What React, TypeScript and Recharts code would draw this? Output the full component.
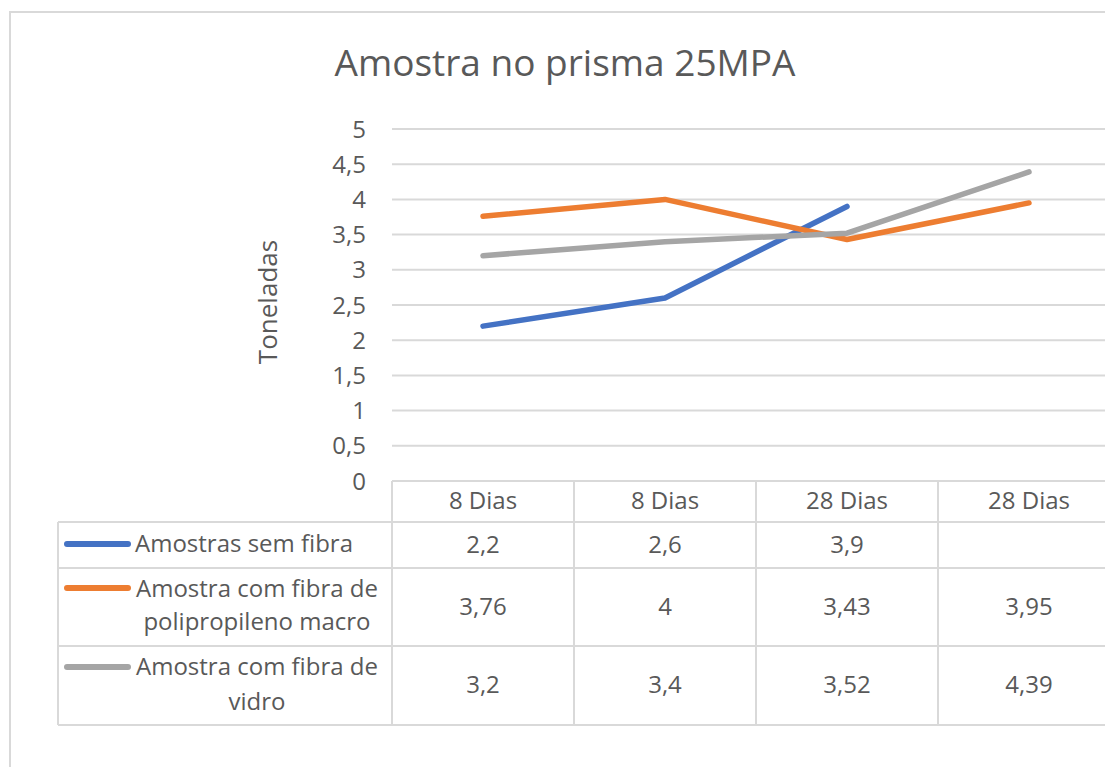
import React from 'react';
import { LineChart, Line, XAxis, YAxis, CartesianGrid } from 'recharts';

const categories = ['8 Dias', '8 Dias', '28 Dias', '28 Dias'];
const semFibra: (number | null)[] = [2.2, 2.6, 3.9, null];
const polipropileno: (number | null)[] = [3.76, 4, 3.43, 3.95];
const vidro: (number | null)[] = [3.2, 3.4, 3.52, 4.39];
const yTicks = [0, 0.5, 1, 1.5, 2, 2.5, 3, 3.5, 4, 4.5, 5];

const seriesColors = ['#4472C4', '#ED7D31', '#A5A5A5'];
const seriesValues = [semFibra, polipropileno, vidro];

const data = categories.map((c, i) => ({
  idx: i,
  cat: c,
  semFibra: semFibra[i],
  polipropileno: polipropileno[i],
  vidro: vidro[i],
}));

const fmt = (v: number) => String(v).replace('.', ',');

const GRID = '#d9d9d9';
const TEXT = '#595959';
const SANS = '"Open Sans", "Noto Sans", sans-serif';

const HALF = 91;

const TableColumn = (props: any) => {
  const { x, y, payload } = props;
  const i = Number(payload.value);
  const baselines = [72, 134, 212];
  return (
    <g>
      <line x1={x - HALF} x2={x - HALF} y1={y} y2={y + 244} stroke={GRID} strokeWidth={2} />
      <line x1={x + HALF} x2={x + HALF} y1={y} y2={y + 244} stroke={GRID} strokeWidth={2} />
      <text x={x} y={y + 28} textAnchor="middle" fontFamily={SANS} fontSize={24} fill={TEXT}>
        {categories[i]}
      </text>
      {seriesValues.map((s, k) =>
        s[i] == null ? null : (
          <text key={k} x={x} y={y + baselines[k]} textAnchor="middle" fontFamily={SANS} fontSize={24} fill={TEXT}>
            {fmt(s[i] as number)}
          </text>
        )
      )}
    </g>
  );
};

export default function App() {
  return (
    <div
      style={{
        position: 'fixed',
        left: 0,
        top: 0,
        width: 1105,
        height: 767,
        overflow: 'hidden',
        background: '#fff',
      }}
    >
      <div
        style={{
          position: 'absolute',
          left: 9,
          top: 11,
          width: 1300,
          height: 1000,
          border: `2px solid ${GRID}`,
          boxSizing: 'border-box',
        }}
      />
      <div style={{ position: 'absolute', left: 0, top: 0 }}>
        <LineChart width={1130} height={767} data={data} margin={{ top: 129, right: 10, bottom: 0, left: 0 }}>
          <CartesianGrid horizontal vertical={false} stroke={GRID} strokeWidth={2} />
          <XAxis
            dataKey="idx"
            type="category"
            height={286}
            axisLine={false}
            tickLine={false}
            tickSize={0}
            tickMargin={0}
            interval={0}
            padding={{ left: HALF, right: HALF }}
            tick={(p: any) => <TableColumn {...p} />}
          />
          <YAxis
            type="number"
            domain={[0, 5]}
            ticks={yTicks}
            width={392}
            axisLine={false}
            tickLine={false}
            tickSize={0}
            tickMargin={26}
            tickFormatter={fmt}
            tick={{ fill: TEXT, fontSize: 24, fontFamily: SANS }}
          />
          <Line dataKey="semFibra" stroke={seriesColors[0]} strokeWidth={5.5} dot={false} isAnimationActive={false} strokeLinecap="round" strokeLinejoin="round" />
          <Line dataKey="polipropileno" stroke={seriesColors[1]} strokeWidth={5.5} dot={false} isAnimationActive={false} strokeLinecap="round" strokeLinejoin="round" />
          <Line dataKey="vidro" stroke={seriesColors[2]} strokeWidth={5.5} dot={false} isAnimationActive={false} strokeLinecap="round" strokeLinejoin="round" />
        </LineChart>
      </div>
      <svg width={1105} height={767} style={{ position: 'absolute', left: 0, top: 0, pointerEvents: 'none' }}>
        <text x={565} y={76} textAnchor="middle" fontFamily={SANS} fontSize={37} fill={TEXT}>
          Amostra no prisma 25MPA
        </text>
        <text
          x={277}
          y={302}
          textAnchor="middle"
          fontFamily={SANS}
          fontSize={26}
          fill={TEXT}
          transform="rotate(-90 277 302)"
        >
          Toneladas
        </text>
        {[522, 568, 646, 725].map((yy) => (
          <line key={yy} x1={58} x2={1105} y1={yy} y2={yy} stroke={GRID} strokeWidth={2} />
        ))}
        <line x1={58} x2={58} y1={522} y2={725} stroke={GRID} strokeWidth={2} />
        {[544, 588, 667].map((yy, k) => (
          <line key={k} x1={67} x2={128} y1={yy} y2={yy} stroke={seriesColors[k]} strokeWidth={6} strokeLinecap="round" />
        ))}
        <text x={135} y={552} fontFamily={SANS} fontSize={24} fill={TEXT}>
          Amostras sem fibra
        </text>
        <text x={257} y={597} textAnchor="middle" fontFamily={SANS} fontSize={24} fill={TEXT}>
          Amostra com fibra de
        </text>
        <text x={257} y={630} textAnchor="middle" fontFamily={SANS} fontSize={24} fill={TEXT}>
          polipropileno macro
        </text>
        <text x={257} y={675} textAnchor="middle" fontFamily={SANS} fontSize={24} fill={TEXT}>
          Amostra com fibra de
        </text>
        <text x={257} y={710} textAnchor="middle" fontFamily={SANS} fontSize={24} fill={TEXT}>
          vidro
        </text>
      </svg>
    </div>
  );
}
